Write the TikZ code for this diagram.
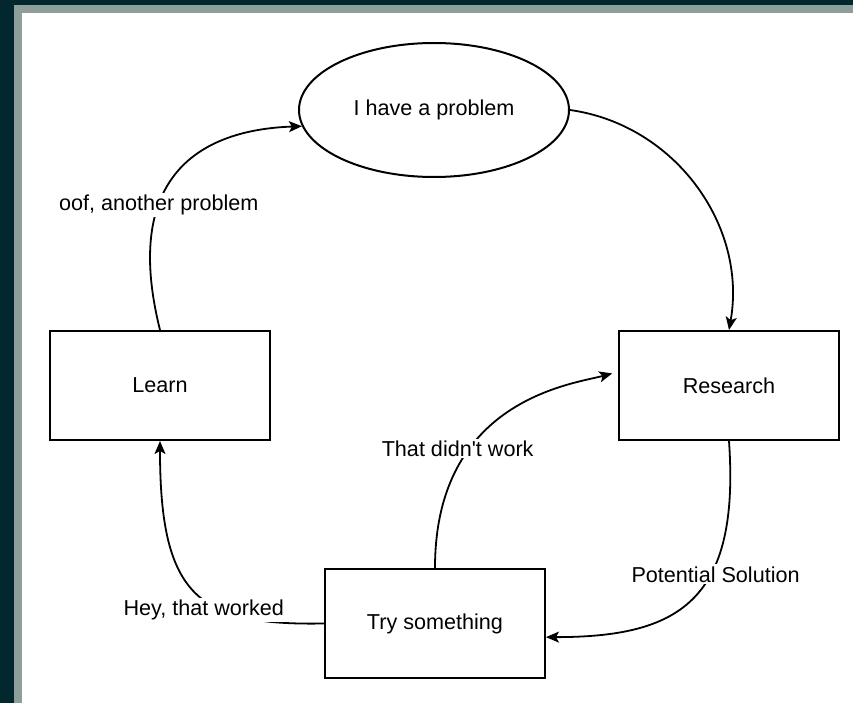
\documentclass[tikz,border=0pt]{standalone}
\usepackage{fontspec}
\newfontfamily\diafont{Liberation Sans}
\usetikzlibrary{shapes.geometric,arrows.meta}
\definecolor{framedark}{HTML}{03272F}
\definecolor{framegray}{HTML}{8E9E9B}

\begin{document}
\begin{tikzpicture}[x=0.5pt,y=0.5pt,
	every node/.style={font=\diafont\fontsize{10.8}{13}\selectfont},
	box/.style={draw,line width=1pt,minimum width=110pt,minimum height=54.5pt,inner sep=0pt},
	bubble/.style={draw,ellipse,line width=1pt,minimum width=135pt,minimum height=67pt,inner sep=0pt},
	lbl/.style={fill=white,inner xsep=2pt,inner ysep=1pt},
	flow/.style={line width=0.9pt,-{Stealth[length=6.5pt,width=5.5pt,inset=1.5pt]}}]
\useasboundingbox (0,0) rectangle (853,703);
% frame
\fill[framedark] (0,0) rectangle (853,703);
\fill[framegray] (14,0) rectangle (853,698);
\fill[white] (22,0) rectangle (853,690);

\node[bubble] (prob) at (434,593) {I have a problem};
\node[box] (learn) at (160,317.5) {Learn};
\node[box] (research) at (729,317.5) {Research};
\node[box] (try) at (435,79.5) {Try something};

\draw[flow] (learn.north) to[out=104,in=182,out looseness=1.64,in looseness=1.04]
	node[lbl,pos=.35] {oof, another problem} (prob.187);
\draw[flow] (prob.east) to[out=-8,in=80] (research.north);
\draw[flow] (research.south) to[out=-86,in=0,out looseness=1.53,in looseness=1.26]
	node[lbl,pos=.37,xshift=2pt,yshift=-1pt] {Potential Solution} (try.-7);
\draw[flow,shorten >=3pt] (try.north) to[out=90,in=195,out looseness=1.6,in looseness=.45]
	node[lbl,pos=.32,xshift=-6pt] {That didn't work} (research.173);
\draw[flow] (try.west) to[out=181,in=-90,out looseness=1.3,in looseness=1.64]
	node[lbl,pos=.42,xshift=-2.5pt,yshift=-3.5pt] {Hey, that worked} (learn.south);
\end{tikzpicture}
\end{document}
